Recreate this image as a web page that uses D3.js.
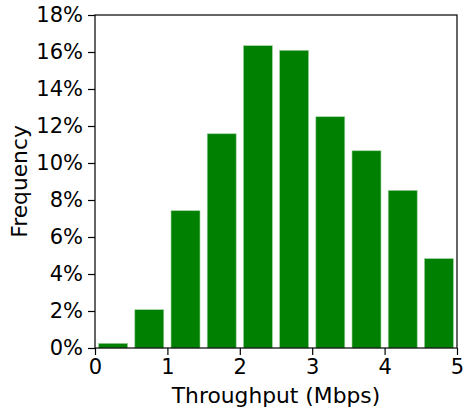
<!DOCTYPE html>
<html>
<head>
<meta charset="utf-8">
<script src="https://cdn.jsdelivr.net/npm/d3@7"></script>
<style>
  html, body { margin: 0; padding: 0; background: #fff; }
  svg { display: block; }
  text { font-family: "DejaVu Sans", sans-serif; fill: #000; }
</style>
</head>
<body>
<script>
// Histogram bins of throughput (Mbps) and the share of samples in each bin (%)
const binStarts = [0, 0.5, 1, 1.5, 2, 2.5, 3, 3.5, 4, 4.5];
const binWidth = 0.5;
const frequencies = [0.25, 2.07, 7.42, 11.58, 16.34, 16.09, 12.5, 10.66, 8.52, 4.83];
const xTicks = [0, 1, 2, 3, 4, 5];
const yTicks = [0, 2, 4, 6, 8, 10, 12, 14, 16, 18];

const W = 466, H = 408;
const margin = { left: 95, right: 9, top: 15, bottom: 60 };
const iw = W - margin.left - margin.right;
const ih = H - margin.top - margin.bottom;

const svg = d3.select("body").append("svg")
  .attr("width", W).attr("height", H);

const g = svg.append("g").attr("transform", `translate(${margin.left},${margin.top})`);

const x = d3.scaleLinear().domain([0, 5]).range([0, iw]);
const y = d3.scaleLinear().domain([0, 18]).range([ih, 0]);

// bars take 80% of the bin width, centred in the bin
const rwidth = 0.8;
g.selectAll("rect.bar").data(binStarts.map((s, i) => ({ s, v: frequencies[i] })))
  .enter().append("rect")
  .attr("class", "bar")
  .attr("x", d => x(d.s + binWidth * (1 - rwidth) / 2))
  .attr("width", d => x(d.s + binWidth * (1 + rwidth) / 2) - x(d.s + binWidth * (1 - rwidth) / 2))
  .attr("y", d => y(d.v))
  .attr("height", d => y(0) - y(d.v))
  .attr("fill", "#008000")
  .attr("stroke", "#9fd09f")
  .attr("stroke-width", 0.6);

// axes
const fontSize = 21;
const xAxis = g.append("g").attr("transform", `translate(0,${ih})`)
  .call(d3.axisBottom(x).tickValues(xTicks).tickFormat(d3.format("d")).tickSize(7).tickPadding(4));
const yAxis = g.append("g")
  .call(d3.axisLeft(y).tickValues(yTicks).tickFormat(d => d + "%").tickSize(7).tickPadding(5));

[xAxis, yAxis].forEach(a => {
  a.select(".domain").remove();
  a.selectAll(".tick line").attr("stroke", "#000").attr("stroke-width", 1.2);
  a.selectAll(".tick text").attr("font-size", fontSize).attr("font-family", "DejaVu Sans");
});

// frame
g.append("rect")
  .attr("x", 0).attr("y", 0).attr("width", iw).attr("height", ih)
  .attr("fill", "none").attr("stroke", "#000").attr("stroke-width", 1.2);

// axis titles
const titleSize = 21.8;
svg.append("text")
  .attr("x", margin.left + iw / 2).attr("y", 403)
  .attr("text-anchor", "middle").attr("font-size", titleSize)
  .text("Throughput (Mbps)");

svg.append("text")
  .attr("transform", `translate(27,${margin.top + ih / 2}) rotate(-90)`)
  .attr("text-anchor", "middle").attr("font-size", titleSize)
  .text("Frequency");
</script>
</body>
</html>
